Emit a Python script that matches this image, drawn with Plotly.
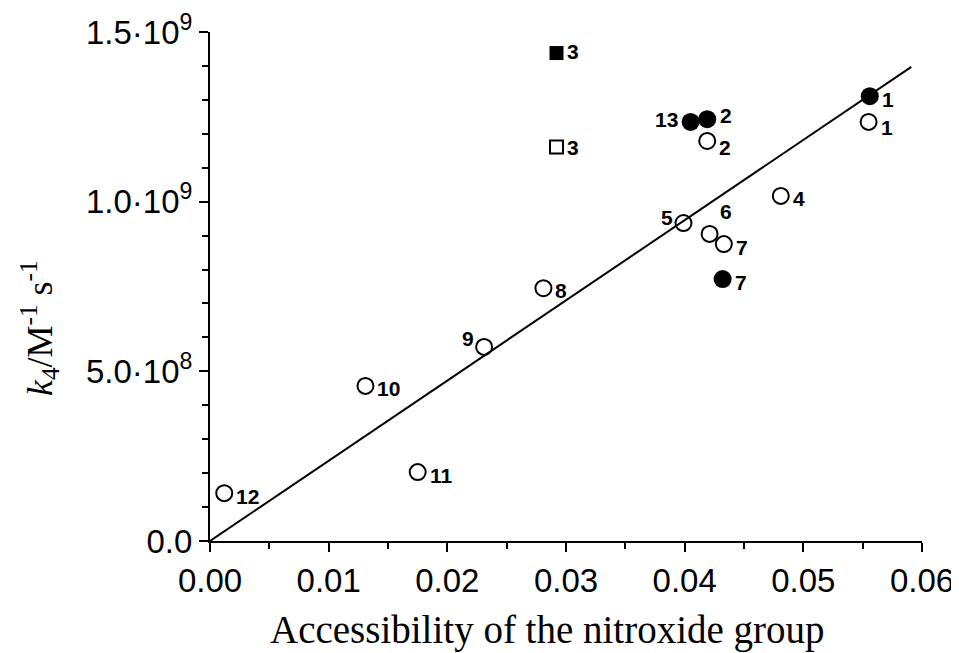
import plotly.graph_objects as go

# open circles
oc_x = [0.0555, 0.0419, 0.0481, 0.0399, 0.0421, 0.0433, 0.0281, 0.0231, 0.0131, 0.0175, 0.0012]
oc_y = [1.235e9, 1.179e9, 1.017e9, 0.937e9, 0.905e9, 0.875e9, 0.745e9, 0.572e9, 0.457e9, 0.203e9, 0.141e9]
oc_lab = ["1", "2", "4", "5", "6", "7", "8", "9", "10", "11", "12"]
# filled circles
fc_x = [0.0556, 0.0419, 0.0405, 0.0432]
fc_y = [1.311e9, 1.243e9, 1.235e9, 0.772e9]
fc_lab = ["1", "2", "13", "7"]
# squares
os_x = [0.0292]; os_y = [1.161e9]; os_lab = ["3"]
fs_x = [0.0292]; fs_y = [1.438e9]; fs_lab = ["3"]
# fit line
line_x = [0.0, 0.0591]
line_y = [0.0, 1.397e9]

yticks = [0, 0.5e9, 1.0e9, 1.5e9]
yticktext = ["0.0", "5.0·10<sup>8</sup>", "1.0·10<sup>9</sup>", "1.5·10<sup>9</sup>"]
xticks = [0.0, 0.01, 0.02, 0.03, 0.04, 0.05, 0.06]
xticktext = ["0.00", "0.01", "0.02", "0.03", "0.04", "0.05", "0.06"]
xtitle = "Accessibility of the nitroxide group"
ytitle = "<i>k</i><sub>4</sub>/M<sup>-1</sup> s<sup>-1</sup>"

fig = go.Figure()
fig.add_trace(go.Scatter(x=line_x, y=line_y, mode="lines",
                         line=dict(color="black", width=2), showlegend=False))
fig.add_trace(go.Scatter(x=oc_x, y=oc_y, mode="markers",
                         marker=dict(symbol="circle-open", size=16, color="black", line=dict(width=2)),
                         showlegend=False))
fig.add_trace(go.Scatter(x=fc_x, y=fc_y, mode="markers",
                         marker=dict(symbol="circle", size=18, color="black"),
                         showlegend=False))
fig.add_trace(go.Scatter(x=os_x, y=os_y, mode="markers",
                         marker=dict(symbol="square-open", size=13, color="black", line=dict(width=2)),
                         showlegend=False))
fig.add_trace(go.Scatter(x=fs_x, y=fs_y, mode="markers",
                         marker=dict(symbol="square", size=14, color="black"),
                         showlegend=False))

# label offsets (style): (xshift, yshift, anchor)
oc_off = {"1": (10, -6, "left"), "2": (10, -7, "left"), "4": (10, -3, "left"),
          "5": (-8, 6, "right"), "6": (8, 22, "left"), "7": (10, -3, "left"),
          "8": (10, -2, "left"), "9": (-8, 8, "right"), "10": (10, -3, "left"),
          "11": (10, -3, "left"), "12": (10, -3, "left")}
fc_off = {"1": (10, -3, "left"), "2": (11, 4, "left"), "13": (-11, 2, "right"),
          "7": (10, -3, "left")}

font_lab = dict(family="Liberation Sans, Arial", size=21, color="black")
ann = []
for x, y, t in zip(oc_x, oc_y, oc_lab):
    dx, dy, a = oc_off[t]
    ann.append(dict(x=x, y=y, text="<b>%s</b>" % t, showarrow=False, xshift=dx, yshift=dy,
                    xanchor=a, yanchor="middle", font=font_lab))
for x, y, t in zip(fc_x, fc_y, fc_lab):
    dx, dy, a = fc_off[t]
    ann.append(dict(x=x, y=y, text="<b>%s</b>" % t, showarrow=False, xshift=dx, yshift=dy,
                    xanchor=a, yanchor="middle", font=font_lab))
for x, y, t in zip(os_x, os_y, os_lab):
    ann.append(dict(x=x, y=y, text="<b>%s</b>" % t, showarrow=False, xshift=8, yshift=0,
                    xanchor="left", yanchor="middle", font=font_lab))
for x, y, t in zip(fs_x, fs_y, fs_lab):
    ann.append(dict(x=x, y=y, text="<b>%s</b>" % t, showarrow=False, xshift=8, yshift=2,
                    xanchor="left", yanchor="middle", font=font_lab))

# axis titles as paper annotations
ann.append(dict(xref="paper", yref="paper", x=0.4747, y=-0.175, text=xtitle, showarrow=False,
                xanchor="center", yanchor="middle",
                font=dict(family="Liberation Serif, Times New Roman", size=39, color="black")))
ann.append(dict(xref="paper", yref="paper", x=-0.239, y=0.418, text=ytitle, showarrow=False,
                textangle=-90, xanchor="center", yanchor="middle",
                font=dict(family="Liberation Serif, Times New Roman", size=36, color="black")))

tickfont = dict(family="Liberation Sans, Arial", size=33, color="black")
fig.update_layout(
    width=951, height=645,
    margin=dict(l=202, r=37, t=24, b=112),
    plot_bgcolor="white", paper_bgcolor="white",
    annotations=ann,
    xaxis=dict(range=[0, 0.06], tickvals=xticks, ticktext=xticktext, ticks="outside",
               ticklen=9, tickwidth=2, tickcolor="black", showline=True, linecolor="black",
               linewidth=2, showgrid=False, zeroline=False, tickfont=tickfont, automargin=False,
               minor=dict(dtick=0.005, ticks="outside", ticklen=6, tickwidth=2, tickcolor="black")),
    yaxis=dict(range=[0, 1.5e9], tickvals=yticks, ticktext=yticktext, ticks="outside",
               ticklen=9, tickwidth=2, tickcolor="black", showline=True, linecolor="black",
               linewidth=2, showgrid=False, zeroline=False, tickfont=tickfont, automargin=False,
               minor=dict(dtick=1e8, ticks="outside", ticklen=6, tickwidth=2, tickcolor="black")),
)
fig.write_html("out.html")
